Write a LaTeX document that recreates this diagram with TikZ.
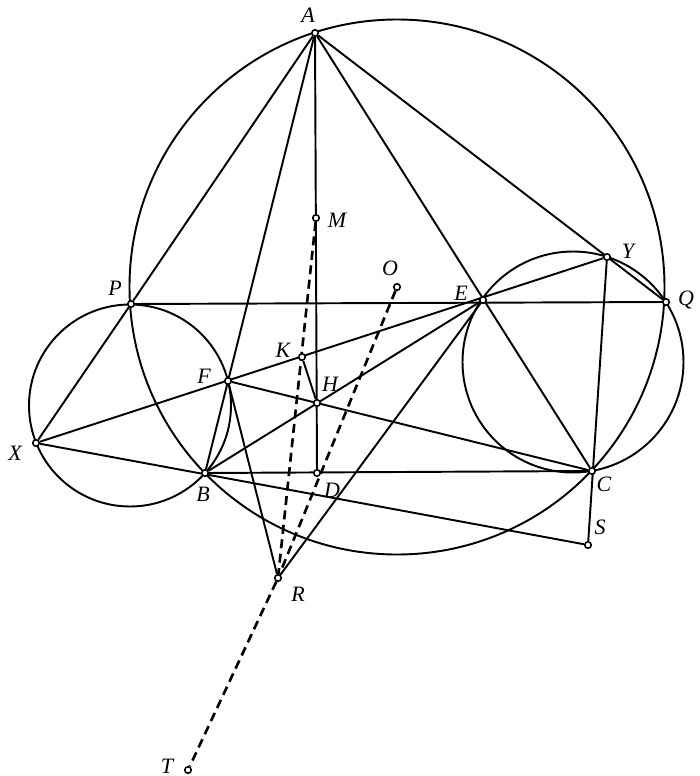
\documentclass[tikz,border=0pt]{standalone}
\usepackage{fontspec}
\setmainfont{Liberation Serif}
\usetikzlibrary{backgrounds}

\begin{document}
\begin{tikzpicture}[x=0.2mm, y=-0.2mm,
    pt/.style={circle, draw, fill=white, line width=0.9pt, inner sep=0pt, minimum size=1.3mm},
    lab/.style={font=\fontsize{12.5}{14}\selectfont\itshape, inner sep=0pt},
    aux/.style={line width=1.5pt, dash pattern=on 1.8mm off 1.1mm}]
\useasboundingbox (0,0) rectangle (699,776);

\node[pt] (A) at (315,33) {};
\node[pt] (M) at (316,218) {};
\node[pt] (O) at (397,287) {};
\node[pt] (P) at (131,304) {};
\node[pt] (E) at (483,300) {};
\node[pt] (Q) at (666,302) {};
\node[pt] (Y) at (607,257) {};
\node[pt] (K) at (302,357) {};
\node[pt] (F) at (228,381) {};
\node[pt] (H) at (317,403) {};
\node[pt] (X) at (36,443) {};
\node[pt] (B) at (205,473) {};
\node[pt] (D) at (317,473) {};
\node[pt] (C) at (592,471) {};
\node[pt] (S) at (588,545) {};
\node[pt] (R) at (278,578) {};
\node[pt] (T) at (188,770) {};
\coordinate (c1) at (130,405.5);
\coordinate (c2) at (573,362);

\node[lab, xshift=-1.4mm, yshift=3.6mm] (lA) at (A) {A};
\node[lab, xshift=4.2mm, yshift=-0.4mm] (lM) at (M) {M};
\node[lab, xshift=-1.4mm, yshift=3.8mm] (lO) at (O) {O};
\node[lab, xshift=-3.2mm, yshift=3.2mm] (lP) at (P) {P};
\node[lab, xshift=-4.4mm, yshift=1.4mm] (lE) at (E) {E};
\node[lab, xshift=4mm, yshift=0.4mm] (lQ) at (Q) {Q};
\node[lab, xshift=4.2mm, yshift=1.2mm] (lY) at (Y) {Y};
\node[lab, xshift=-3.8mm, yshift=1.4mm] (lK) at (K) {K};
\node[lab, xshift=-4.8mm, yshift=1mm] (lF) at (F) {F};
\node[lab, xshift=2.6mm, yshift=3.8mm] (lH) at (H) {H};
\node[lab, xshift=-4.2mm, yshift=-2mm] (lX) at (X) {X};
\node[lab, xshift=-0.4mm, yshift=-4.2mm] (lB) at (B) {B};
\node[lab, xshift=3mm, yshift=-3.4mm] (lD) at (D) {D};
\node[lab, xshift=2.4mm, yshift=-2.6mm] (lC) at (C) {C};
\node[lab, xshift=2.4mm, yshift=3.6mm] (lS) at (S) {S};
\node[lab, xshift=4mm, yshift=-3.2mm] (lR) at (R) {R};
\node[lab, xshift=-4.2mm, yshift=0.8mm] (lT) at (T) {T};

\begin{scope}[on background layer={line width=1.1pt}]
% circles
\draw (O.center) circle[radius=53.5mm];
\draw (c1) circle[radius=20.2mm];
\draw (c2) circle[radius=22.1mm];
% lines
\draw (A) -- (P) -- (X) -- (S);
\draw (A) -- (Q);
\draw (A) -- (B);
\draw (A) -- (D);
\draw (A) -- (C);
\draw (P) -- (Q);
\draw (X) -- (Y);
\draw (B) -- (C);
\draw (B) -- (E);
\draw (F) -- (C);
\draw (K) -- (H);
\draw (Y) -- (S);
\draw (F) -- (R) -- (E);
\draw[aux] (M) -- (R);
\draw[aux] (O) -- (R) -- (T);
\end{scope}
\end{tikzpicture}
\end{document}
